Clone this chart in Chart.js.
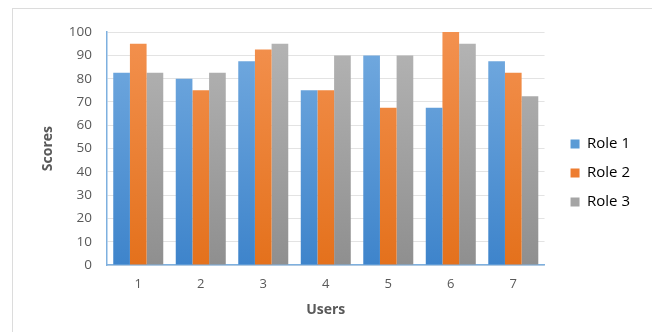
<!DOCTYPE html>
<html>
<head>
<meta charset="utf-8">
<script src="https://cdn.jsdelivr.net/npm/chart.js@4"></script>
<style>
  html, body { margin: 0; padding: 0; background: #ffffff; }
  #frame {
    position: absolute; left: 12px; top: 8px;
    width: 639px; height: 324px;
    border-left: 1px solid #dcdcdc; border-top: 1px solid #dcdcdc;
    background: #ffffff;
  }
  #chart { display: block; }
</style>
</head>
<body>
<div id="frame"><canvas id="chart" width="639" height="324"></canvas></div>
<script>
// Scores per user for each role
const users = ['1', '2', '3', '4', '5', '6', '7'];
const role1 = [82.5, 80, 87.5, 75, 90, 67.5, 87.5];
const role2 = [95, 75, 92.5, 75, 67.5, 100, 82.5];
const role3 = [82.5, 82.5, 95, 90, 90, 95, 72.5];
const seriesNames = ['Role 1', 'Role 2', 'Role 3'];
const yTicks = [0, 10, 20, 30, 40, 50, 60, 70, 80, 90, 100];

const FONT = "'Open Sans', 'Liberation Sans', sans-serif";
const TEXT = '#595959';

// light-to-dark vertical shading for each series
const shades = [
  ['#74abe0', '#3e84cb'],
  ['#f3914f', '#e4711c'],
  ['#b5b5b5', '#8f8f8f']
];
const solid = ['#5b9bd5', '#ed7d31', '#a5a5a5'];

function shade(idx) {
  return function (ctx) {
    const area = ctx.chart.chartArea;
    if (!area) return solid[idx];
    const g = ctx.chart.ctx.createLinearGradient(0, area.top, 0, area.bottom);
    g.addColorStop(0, shades[idx][0]);
    g.addColorStop(1, shades[idx][1]);
    return g;
  };
}

// nudges the legend block away from the plot and up a little
const legendNudge = {
  id: 'legendNudge',
  afterInit(chart) {
    const legend = chart.legend;
    if (!legend) return;
    const drawLegend = legend.draw.bind(legend);
    legend.draw = function () {
      const c = chart.ctx;
      c.save();
      c.translate(12, -7);
      drawLegend();
      c.restore();
    };
  }
};

const data = {
  labels: users,
  datasets: [role1, role2, role3].map((vals, i) => ({
    label: seriesNames[i],
    data: vals,
    backgroundColor: shade(i),
    borderWidth: 0,
    categoryPercentage: 0.8,
    barPercentage: 1.0
  }))
};

new Chart(document.getElementById('chart'), {
  type: 'bar',
  data: data,
  plugins: [legendNudge],
  options: {
    responsive: false,
    animation: false,
    layout: { padding: { top: 18, right: 24, bottom: 0, left: 0 } },
    plugins: {
      tooltip: { enabled: false },
      legend: {
        position: 'right',
        labels: {
          font: { family: FONT, size: 15 },
          color: TEXT,
          boxWidth: 9,
          boxHeight: 9,
          padding: 14,
          generateLabels: (chart) => chart.data.datasets.map((ds, i) => ({
            text: ds.label,
            fillStyle: solid[i],
            strokeStyle: solid[i],
            lineWidth: 0,
            hidden: false,
            datasetIndex: i
          }))
        }
      }
    },
    scales: {
      x: {
        grid: { display: false, drawTicks: false },
        border: { display: true, color: '#7eb0df', width: 1.5 },
        ticks: { font: { family: FONT, size: 13 }, color: TEXT, padding: 11 },
        title: {
          display: true, text: 'Users',
          font: { family: FONT, size: 14, weight: 'bold' }, color: TEXT,
          padding: { top: 4, bottom: 15 }
        },
        afterFit: (scale) => { scale.height = 68; }
      },
      y: {
        min: 0, max: 100,
        afterBuildTicks: (scale) => { scale.ticks = yTicks.map(v => ({ value: v })); },
        grid: { color: '#e3e3e3', drawTicks: false },
        border: { display: true, color: '#7eb0df', width: 1.5 },
        ticks: { font: { family: FONT, size: 13.5 }, color: TEXT, padding: 15 },
        title: {
          display: true, text: 'Scores',
          font: { family: FONT, size: 14, weight: 'bold' }, color: TEXT,
          padding: { top: 27, bottom: 4 }
        },
        afterFit: (scale) => { scale.width = 94; }
      }
    }
  }
});
</script>
</body>
</html>
